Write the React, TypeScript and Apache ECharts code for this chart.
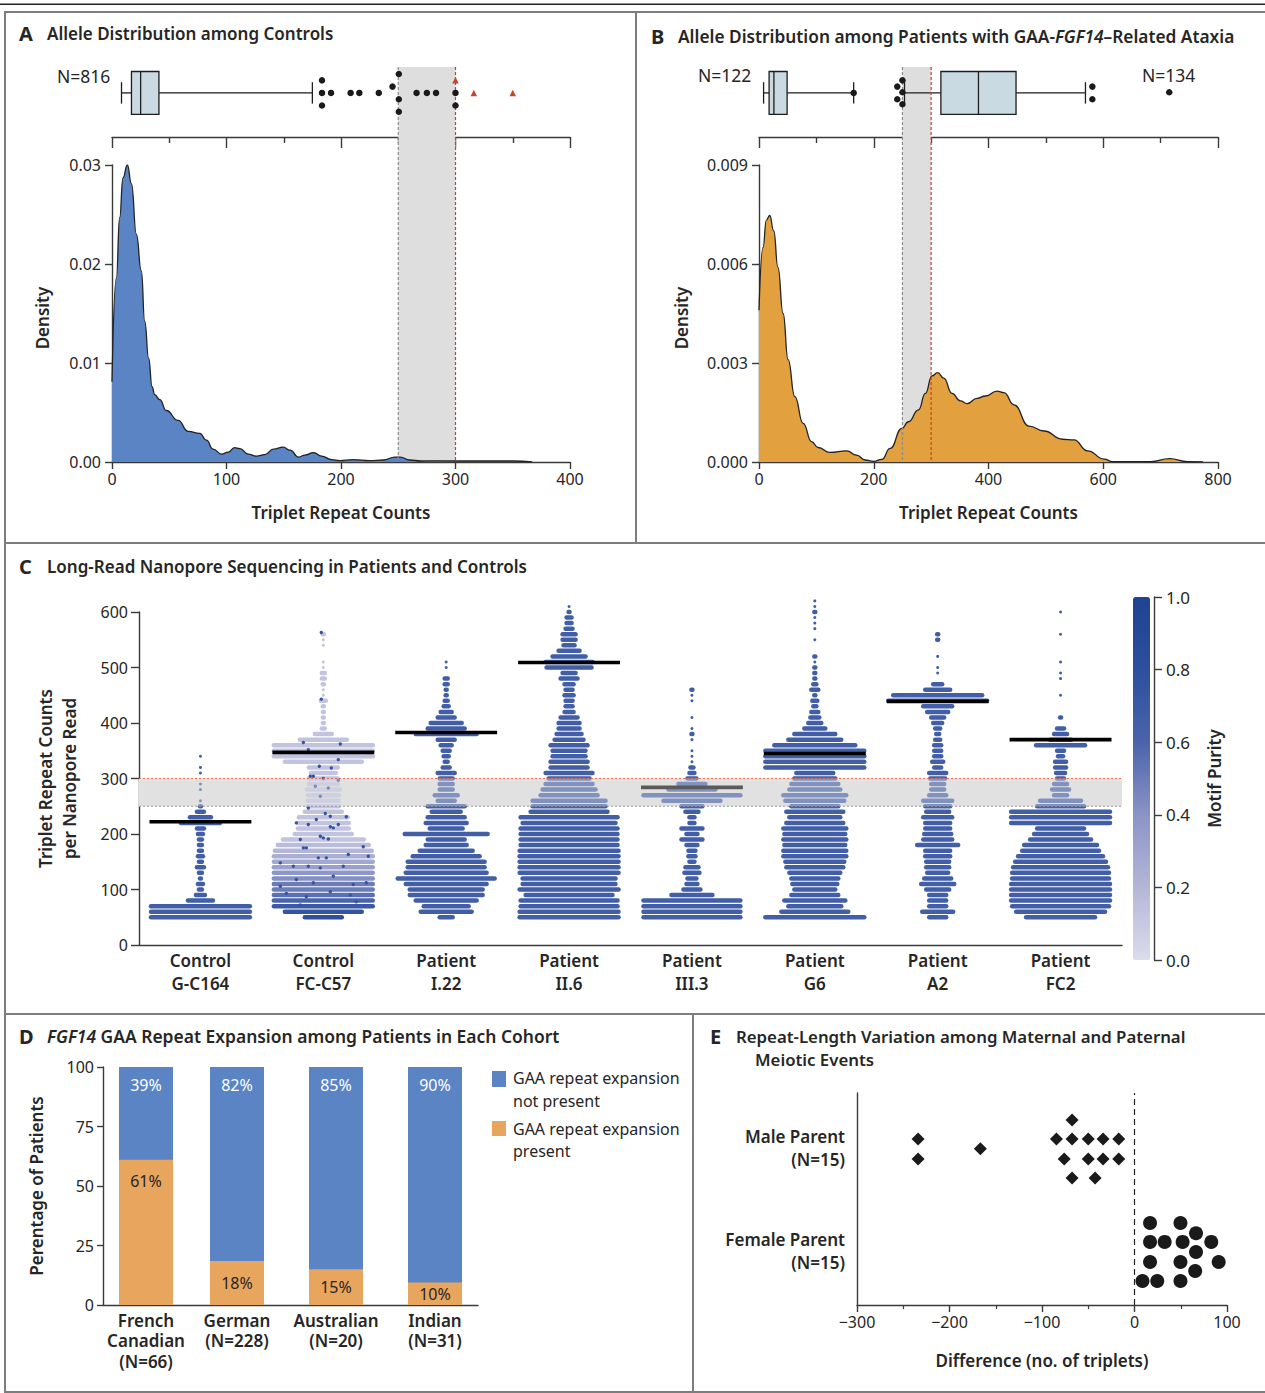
import React, { useEffect, useRef } from "react";
import * as echarts from "echarts";

const FONT = '"Noto Sans", sans-serif';
const INK = "#262626";
const AXIS = "#3a3a3a";

// ---------- Panels A and B: density curves [triplet count, density]
const densityControls = [[0,0.0081],[3.8,0.0186],[6.7,0.0247],[9.6,0.0287],[13.4,0.03],[17,0.0281],[21.3,0.023],[25.6,0.0193],[28.6,0.0142],[32,0.0105],[35,0.0076],[37.3,0.0068],[41.7,0.0063],[47.5,0.0052],[57.7,0.0042],[66.5,0.0031],[76.7,0.0029],[82.5,0.0022],[88.3,0.0013],[95.7,0.0008],[101.5,0.001],[107,0.00145],[111.7,0.00135],[119,0.0008],[126,0.0006],[133.5,0.00075],[141,0.0013],[149.5,0.0015],[155.5,0.0012],[163,0.0005],[168.5,0.0007],[176,0.00095],[183,0.0006],[192,0.00024],[199,0.00014],[210.5,0.00024],[225,0.00014],[237,0.0002],[247,0.0005],[251.6,0.0005],[260,0.0002],[270,0.0001],[280,0.00012],[300,0.0001],[320,0.0001],[350,0.0001],[367,0.00002]];
const densityPatients = [[0,0.0046],[7,0.0065],[12.8,0.00733],[18.7,0.00747],[25.7,0.007],[33,0.0059],[42,0.0045],[50.7,0.0031],[62.4,0.00198],[77,0.00117],[91.5,0.00062],[103,0.00044],[123.6,0.00029],[152.8,0.00034],[170,0.00021],[185,0.00006],[200,0.00002],[214,0.00008],[228.6,0.00041],[249,0.00102],[260.6,0.00122],[278,0.00158],[290,0.00208],[301.5,0.00261],[311.4,0.00271],[322,0.00254],[336.4,0.00208],[351,0.00185],[362.7,0.00177],[380,0.00193],[394.8,0.002],[415,0.00215],[427,0.0021],[444.5,0.00173],[470.5,0.00109],[496.8,0.00094],[528.9,0.00069],[549,0.00067],[572.6,0.00034],[601.7,0.00009],[616,0.00001],[683,0.00001],[715.5,0.0001],[747.5,0.00001],[773.8,0]];

// box plots: [low whisker, q1, median, q3, high whisker]
const boxControls = [[8.3, 17, 25, 41, 175]];
const boxPatients = [[8, 17.6, 26, 49, 165], [253.6, 317, 382.5, 448, 569]];
// outliers: [triplet count, stacking row]
const dotsControls = [[183.4,5],[183.4,7],[183.4,9],[191.3,7],[208.4,7],[216,7],[233,7],[245,8],[250.5,10],[250.5,6],[250.5,4],[266,7],[275,7],[283,7],[300,7],[300,5]];
const trianglesControls = [[300,9],[316,7],[350,7]];
const dotsPatients = [[165,7],[241,8],[241,6],[250,9],[250,7.1],[250,5.2],[581,8],[581,6],[715,7.1]];
const pathogenicBand = [[250, 300]];

// ---------- Panel C: swarms as reads per repeat-count row
const swarmNames = ["Control\nG-C164","Control\nFC-C57","Patient\nI.22","Patient\nII.6","Patient\nIII.3","Patient\nG6","Patient\nA2","Patient\nFC2"];
const rowStart = 50;
const rowStep = 10;
const swarmGC164 = [51,51,51,14,6,3,4,2,3,5,3,4,3,3,3,4,5,21,12,5,2,1,0,1,1,0,1,1,0,1];
const swarmFCC57 = [20,40,51,51,51,51,51,51,51,51,51,51,50,47,42,30,27,27,26,20,17,17,17,18,16,16,14,16,40,51,51,51,25,10,3,2,2,2,2,4,1,1,2,3,3,1,1,0,0,1,1,2];
const swarmI22 = [8,27,24,32,38,38,42,50,42,40,40,35,28,22,20,43,18,22,20,16,20,10,13,8,8,8,10,5,3,4,5,7,10,32,20,17,10,7,4,3,2,2,3,3,0,1,1];
const swarmII6 = [51,51,50,50,45,51,48,48,51,51,51,51,51,50,50,50,50,48,50,40,38,38,30,28,25,22,25,20,20,18,18,20,16,14,12,12,10,6,5,5,6,5,6,10,8,24,25,18,12,7,8,8,5,4,4,2,1];
const swarmIII3 = [50,50,50,50,22,10,7,6,9,8,4,5,5,7,12,7,12,4,4,8,12,30,50,25,15,6,4,3,1,1,1,0,1,2,1,0,1,0,0,1,1,2];
const swarmG6 = [51,35,28,32,25,22,24,25,27,30,31,33,33,32,33,32,33,30,27,30,25,31,33,27,25,22,20,51,51,51,51,42,28,22,12,8,6,5,3,4,2,5,3,2,2,2,1,2,0,0,1,0,1,1,1,2,1,1];
const swarmA2 = [10,17,10,10,10,13,18,15,12,13,13,14,14,22,16,15,14,14,16,13,14,16,10,8,8,9,10,5,7,5,5,5,4,3,4,6,8,12,16,51,46,14,6,0,1,1,0,1,0,0,2,2];
const swarmFC2 = [36,46,50,51,51,51,51,50,50,49,47,44,40,38,32,28,25,51,51,51,25,22,8,10,8,5,6,7,7,4,5,26,12,8,5,0,2,0,0,0,1,0,0,1,1,0,1,0,0,0,0,1,0,0,0,1];
const swarmRows = [swarmGC164, swarmFCC57, swarmI22, swarmII6, swarmIII3, swarmG6, swarmA2, swarmFC2];
const swarmPurity = [0.66, 0.13, 0.66, 0.66, 0.66, 0.66, 0.66, 0.66];
const fcc57RowPurity = [0.8,0.75,0.7,0.6,0.55,0.5,0.5,0.42,0.38,0.33,0.28,0.25,0.2,0.17];
// darker single reads scattered in Control FC-C57: [read offset, triplet count]
const fcc57DarkReads = [[-2,563],[-2,443],[-20,365],[17,362],[-15,352],[15,334],[-4,322],[8,319],[-13,304],[-10,304],[0,300],[15,297],[-8,286],[5,283],[-3,268],[-15,247],[2,237],[23,231],[7,232],[-27,220],[-7,226],[15,217],[-15,217],[7,213],[10,211],[-3,196],[0,193],[5,191],[-23,190],[-20,175],[-17,175],[-5,157],[3,157],[40,177],[45,160],[-43,148],[-30,142],[-15,142],[-3,139],[25,163],[20,142],[-43,106],[-27,118],[-10,112],[10,124],[30,109],[43,112],[-37,93],[-17,87],[7,96],[27,90],[-23,72],[33,78]];
const swarmMedians = [222, 347, 383, 509, 284, 345, 439, 370];

// ---------- Panel D
const cohorts = ["French\nCanadian\n(N=66)", "German\n(N=228)", "Australian\n(N=20)", "Indian\n(N=31)"];
const cohortAxisPositions = [43, 134, 233, 332];
const expansionPresent = [61, 18.5, 15, 9.5];
const expansionAbsent = [39, 81.5, 85, 90.5];
const presentLabels = ["61%", "18%", "15%", "10%"];
const absentLabels = ["39%", "82%", "85%", "90%"];

// ---------- Panel E: [difference, stacking row]
const maleParent = [[-234,17.1],[-234,15.05],[-166.6,16.1],[-84.4,17.1],[-67.5,17.1],[-50,17.1],[-34,17.1],[-17,17.1],[-67.5,19.07],[-76,15.05],[-50,15.05],[-34,15.05],[-17,15.05],[-67.5,13.1],[-42.6,13.1]];
const femaleParent = [[16.8,8.45],[49.7,8.45],[66.5,7.4],[16.8,6.5],[32.6,6.5],[52,6.5],[83,6.5],[66.5,5.46],[16.8,4.43],[49.7,4.43],[91,4.43],[65.6,3.5],[8.6,2.47],[24.6,2.47],[49.7,2.47]];
const parentAxisRows = [16.2, 5.6];
const parentNames = ["Male Parent\n(N=15)", "Female Parent\n(N=15)"];

const BLUE = "#5a84c4";
const ORANGE = "#e3a03e";
const BAR_ORANGE = "#e8a55e";
const BAND = "#dededf";

function bandItem(_: any, api: any) {
  const a = api.coord([api.value(0), 0]);
  const b = api.coord([api.value(1), 0]);
  const cs = _.coordSys;
  return { type: "rect", shape: { x: a[0], y: cs.y, width: b[0] - a[0], height: cs.height }, style: { fill: BAND } };
}
function vLine(_: any, api: any, idx: number, color: string) {
  const a = api.coord([api.value(idx), 0]);
  const cs = _.coordSys;
  return { type: "line", shape: { x1: a[0], y1: cs.y, x2: a[0], y2: cs.y + cs.height }, style: { stroke: color, lineWidth: 1.2, lineDash: [3, 2] } };
}
function bandLines(p: any, api: any) {
  return { type: "group", children: [vLine(p, api, 0, "#8a8a8a"), vLine(p, api, 1, "#c8402c")] };
}
function boxItem(_: any, api: any) {
  const yMid = 7, boxHalf = 3.4, capHalf = 1.7;
  const pt = (i: number, lvl: number) => api.coord([api.value(i), lvl]);
  const st = { stroke: "#1d1d1d", lineWidth: 1.3 };
  const lo = pt(0, yMid), q1t = pt(1, yMid + boxHalf), q1b = pt(1, yMid - boxHalf), m = pt(2, yMid + boxHalf), mb = pt(2, yMid - boxHalf), q3t = pt(3, yMid + boxHalf), q3m = pt(3, yMid), hi = pt(4, yMid), q1m = pt(1, yMid);
  const capL = [pt(0, yMid + capHalf), pt(0, yMid - capHalf)], capH = [pt(4, yMid + capHalf), pt(4, yMid - capHalf)];
  const line = (a: number[], b: number[]) => ({ type: "line", shape: { x1: a[0], y1: a[1], x2: b[0], y2: b[1] }, style: st });
  return { type: "group", children: [
    line(lo, q1m), line(q3m, hi), line(capL[0], capL[1]), line(capH[0], capH[1]),
    { type: "rect", shape: { x: q1t[0], y: q1t[1], width: q3t[0] - q1t[0], height: q1b[1] - q1t[1] }, style: { fill: "#c9dae3", stroke: "#1d1d1d", lineWidth: 1.3 } },
    line(m, mb),
  ] };
}
function rowItem(_: any, api: any) {
  const c = api.coord([api.value(0), api.value(1)]);
  const band = api.size([1, 0])[0];
  const w = (api.value(2) / 123) * band;
  const color = api.visual("color");
  if (api.value(2) <= 1) return { type: "circle", shape: { cx: c[0], cy: c[1], r: 1.5 }, style: { fill: color } };
  return { type: "line", shape: { x1: c[0] - w + 1.5, y1: c[1], x2: c[0] + w - 1.5, y2: c[1] }, style: { stroke: color, lineWidth: 4.5, lineCap: "round" } };
}
function darkReadItem(_: any, api: any) {
  const c = api.coord([api.value(0), api.value(1)]);
  const band = api.size([1, 0])[0];
  return { type: "circle", shape: { cx: c[0] + (api.value(2) / 123) * band, cy: c[1], r: 1.7 }, style: { fill: api.visual("color") } };
}
function medianItem(_: any, api: any) {
  const c = api.coord([api.value(0), api.value(1)]);
  const band = api.size([1, 0])[0];
  const w = (51 / 123) * band;
  return { type: "line", shape: { x1: c[0] - w, y1: c[1], x2: c[0] + w, y2: c[1] }, style: { stroke: "#000", lineWidth: 3.6 } };
}
function hBand(color: string) {
  return (p: any, api: any) => {
    const a = api.coord([0, api.value(1)]);
    const b = api.coord([0, api.value(0)]);
    const cs = p.coordSys;
    return { type: "rect", shape: { x: cs.x, y: a[1], width: cs.width, height: b[1] - a[1] }, style: { fill: color } };
  };
}
function hLines(p: any, api: any) {
  const a = api.coord([0, api.value(0)]);
  const b = api.coord([0, api.value(1)]);
  const cs = p.coordSys;
  const l = (y: number, c: string) => ({ type: "line", shape: { x1: cs.x, y1: y, x2: cs.x + cs.width, y2: y }, style: { stroke: c, lineWidth: 1.2, lineDash: [2, 2] } });
  return { type: "group", children: [l(a[1], "#9a9a9a"), l(b[1], "#ef6b4a")] };
}

function swarmData() {
  const out: number[][] = [];
  swarmRows.forEach((rows, s) => rows.forEach((w, i) => {
    if (w > 0) out.push([s, rowStart + i * rowStep, w, s === 1 && i < fcc57RowPurity.length ? fcc57RowPurity[i] : swarmPurity[s]]);
  }));
  return out;
}

const tickLabel = { fontFamily: FONT, fontSize: 16, color: INK };
const nameStyle = { fontFamily: FONT, fontSize: 17, fontWeight: 600, color: INK };
const axisLine = { onZero: false, lineStyle: { color: AXIS, width: 1.4 } };

function title(x: number, y: number, letter: string, letterX: number, text: string, size = 17) {
  const rich = {
    i: { fontFamily: FONT, fontSize: size, fontWeight: 600, fontStyle: "italic", color: INK },
    n: { fontFamily: FONT, fontSize: size, fontWeight: 600, color: INK },
  };
  return [
    { type: "text", x: letterX, y, style: { text: letter, font: `700 20px ${FONT}`, fill: INK, verticalAlign: "middle" } },
    { type: "text", x, y, style: { text, font: `600 ${size}px ${FONT}`, fill: INK, verticalAlign: "middle", rich } },
  ];
}
function frame(x: number, y: number, w: number, h: number) {
  return { type: "rect", shape: { x, y, width: w, height: h }, style: { fill: "none", stroke: "#7d7d7d", lineWidth: 2 } };
}
function note(x: number, y: number, text: string, size = 16, align = "left") {
  return { type: "text", x, y, style: { text, font: `400 ${size}px ${FONT}`, fill: INK, verticalAlign: "middle", align } };
}

function buildOption() {
  const grids = [
    { left: 112, top: 67, width: 458, height: 395 },
    { left: 112, top: 63, width: 458, height: 74 },
    { left: 112, top: 165, width: 458, height: 297 },
    { left: 759, top: 67, width: 459, height: 395 },
    { left: 759, top: 63, width: 459, height: 74 },
    { left: 759, top: 165, width: 459, height: 297 },
    { left: 139, top: 612, width: 983, height: 333 },
    { left: 1133, top: 597, width: 21, height: 363 },
    { left: 103, top: 1067, width: 375, height: 238 },
    { left: 857, top: 1093, width: 370, height: 212 },
  ];
  const hiddenX = (gridIndex: number, max: number) => ({ gridIndex, type: "value", min: 0, max, show: false });
  const topX = (gridIndex: number, max: number, interval: number) => ({
    gridIndex, type: "value", min: 0, max, interval, axisLine, axisLabel: { show: false }, splitLine: { show: false },
    axisTick: { length: 11, lineStyle: { color: AXIS, width: 1.4 } },
    minorTick: { show: true, splitNumber: 2, length: 6, lineStyle: { color: AXIS, width: 1.4 } }, minorSplitLine: { show: false },
  });
  const densX = (gridIndex: number, max: number, interval: number) => ({
    gridIndex, type: "value", min: 0, max, interval, axisLine, splitLine: { show: false },
    axisTick: { length: 7, lineStyle: { color: AXIS, width: 1.4 } }, axisLabel: { ...tickLabel, margin: 9 },
    name: "Triplet Repeat Counts", nameLocation: "middle", nameGap: 42, nameTextStyle: nameStyle,
  });
  const densY = (gridIndex: number, max: number, interval: number, digits: number, gap: number) => ({
    gridIndex, type: "value", min: 0, max, interval, axisLine: { show: true, ...axisLine }, splitLine: { show: false },
    axisTick: { show: true, length: 7, lineStyle: { color: AXIS, width: 1.4 } },
    axisLabel: { ...tickLabel, margin: 11, formatter: (v: number) => v.toFixed(digits) },
    name: "Density", nameLocation: "middle", nameGap: gap, nameTextStyle: { ...nameStyle, padding: [0, 9, 0, 0] },
  });
  const xAxis = [
    hiddenX(0, 400), topX(1, 400, 100), densX(2, 400, 100),
    hiddenX(3, 800), topX(4, 800, 200), densX(5, 800, 200),
    { gridIndex: 6, type: "category", data: swarmNames, axisLine, axisTick: { show: false },
      axisLabel: { fontFamily: FONT, fontSize: 17, fontWeight: 600, color: INK, lineHeight: 23, margin: 4, interval: 0 } },
    { gridIndex: 7, type: "value", min: 0, max: 1, show: false },
    { gridIndex: 8, type: "value", min: 0, max: 375, axisLine, axisTick: { show: false }, splitLine: { show: false },
      axisLabel: { fontFamily: FONT, fontSize: 17, fontWeight: 600, color: INK, lineHeight: 20.5, margin: 5, customValues: cohortAxisPositions,
        formatter: (v: number) => cohorts[cohortAxisPositions.indexOf(v)] ?? "" } },
    { gridIndex: 9, type: "value", min: -300, max: 100, interval: 100, axisLine, splitLine: { show: false },
      axisTick: { length: 7, lineStyle: { color: AXIS, width: 1.4 } },
      minorTick: { show: true, splitNumber: 2, length: 4, lineStyle: { color: AXIS, width: 1.2 } }, minorSplitLine: { show: false },
      axisLabel: { ...tickLabel, margin: 9, formatter: (v: number) => String(v).replace("-", "\u2212") },
      name: "Difference (no. of triplets)", nameLocation: "middle", nameGap: 47, nameTextStyle: nameStyle },
  ];
  const levelY = (gridIndex: number) => ({ gridIndex, type: "value", min: 0, max: 11.75, show: false });
  const yAxis = [
    { gridIndex: 0, type: "value", min: 0, max: 1, show: false }, levelY(1), densY(2, 0.03, 0.01, 2, 61),
    { gridIndex: 3, type: "value", min: 0, max: 1, show: false }, levelY(4), densY(5, 0.009, 0.003, 3, 69),
    { gridIndex: 6, type: "value", min: 0, max: 600, interval: 100, axisLine: { show: true, ...axisLine }, splitLine: { show: false },
      axisTick: { show: true, length: 8, lineStyle: { color: AXIS, width: 1.4 } }, axisLabel: { ...tickLabel, margin: 11 },
      name: "Triplet Repeat Counts\nper Nanopore Read", nameLocation: "middle", nameGap: 58, nameTextStyle: { ...nameStyle, lineHeight: 24 } },
    { gridIndex: 7, type: "value", min: 0, max: 1, interval: 0.2, position: "right", axisLine: { show: true, ...axisLine }, splitLine: { show: false },
      axisTick: { show: true, length: 8, lineStyle: { color: AXIS, width: 1.4 } },
      axisLabel: { ...tickLabel, fontSize: 17, margin: 12, formatter: (v: number) => v.toFixed(1) },
      name: "Motif Purity", nameLocation: "middle", nameGap: 52, nameRotate: 90, nameTextStyle: nameStyle },
    { gridIndex: 8, type: "value", min: 0, max: 100, interval: 25, axisLine: { show: true, ...axisLine }, splitLine: { show: false },
      axisTick: { show: true, length: 6, lineStyle: { color: AXIS, width: 1.4 } }, axisLabel: { ...tickLabel, margin: 9 },
      name: "Perentage of Patients", nameLocation: "middle", nameGap: 58, nameTextStyle: nameStyle },
    { gridIndex: 9, type: "value", min: 0, max: 21.85, axisLine: { show: true, ...axisLine }, splitLine: { show: false }, axisTick: { show: false },
      axisLabel: { fontFamily: FONT, fontSize: 17, fontWeight: 600, color: INK, lineHeight: 23, margin: 12, customValues: parentAxisRows,
        formatter: (v: number) => parentNames[parentAxisRows.indexOf(v)] ?? "" } },
  ];
  const scatterStyle = (grid: number, data: number[][], symbol: string, symbolSize: number, color: string, z = 6) => ({
    type: "scatter", xAxisIndex: grid, yAxisIndex: grid, data, symbol, symbolSize, itemStyle: { color, opacity: 1 }, z, silent: true,
  });
  const panelAB = (bg: number, box: number, dens: number, boxes: number[][], dots: number[][], curve: number[][], fill: string) => [
    { type: "custom", xAxisIndex: bg, yAxisIndex: bg, data: pathogenicBand, renderItem: bandItem, z: 1, silent: true },
    { type: "line", xAxisIndex: dens, yAxisIndex: dens, data: curve, smooth: 0.5, smoothMonotone: "x", showSymbol: false,
      lineStyle: { color: "#222", width: 1.3 }, areaStyle: { color: fill, opacity: 1 }, z: 2, silent: true },
    { type: "custom", xAxisIndex: box, yAxisIndex: box, data: boxes, renderItem: boxItem, z: 4, silent: true },
    scatterStyle(box, dots, "circle", 6.5, "#1a1a1a"),
    { type: "custom", xAxisIndex: bg, yAxisIndex: bg, data: pathogenicBand, renderItem: bandLines, z: 5, silent: true },
  ];
  const series: any[] = [
    ...panelAB(0, 1, 2, boxControls, dotsControls, densityControls, BLUE),
    scatterStyle(1, trianglesControls, "triangle", 6.5, "#c8442f", 7),
    ...panelAB(3, 4, 5, boxPatients, dotsPatients, densityPatients, ORANGE),
    { type: "custom", xAxisIndex: 6, yAxisIndex: 6, data: pathogenicBand, renderItem: hBand("#e2e2e2"), z: 1, silent: true },
  ];
  const rowsIndex = series.length;
  series.push({ type: "custom", xAxisIndex: 6, yAxisIndex: 6, data: swarmData(), renderItem: rowItem, z: 2, silent: true });
  const darkIndex = series.length;
  series.push({ type: "custom", xAxisIndex: 6, yAxisIndex: 6, data: fcc57DarkReads.map(([o, v]) => [1, v, o, 0.75]), renderItem: darkReadItem, z: 3, silent: true });
  series.push(
    { type: "custom", xAxisIndex: 6, yAxisIndex: 6, data: swarmMedians.map((m, i) => [i, m]), renderItem: medianItem, z: 4, silent: true },
    { type: "custom", xAxisIndex: 6, yAxisIndex: 6, data: pathogenicBand, renderItem: hBand("rgba(226,226,226,0.4)"), z: 5, silent: true },
    { type: "custom", xAxisIndex: 6, yAxisIndex: 6, data: pathogenicBand, renderItem: hLines, z: 6, silent: true },
    { type: "bar", xAxisIndex: 8, yAxisIndex: 8, barWidth: 54, itemStyle: { color: BLUE }, silent: true, z: 2,
      data: expansionAbsent.map((v, i) => ({
        value: [cohortAxisPositions[i], v + expansionPresent[i]],
        label: { show: true, position: "insideTop", distance: 10, formatter: absentLabels[i], fontFamily: FONT, fontSize: 16, color: "#fff" },
      })) },
    { type: "bar", xAxisIndex: 8, yAxisIndex: 8, barWidth: 54, barGap: "-100%", itemStyle: { color: BAR_ORANGE }, silent: true, z: 3,
      data: expansionPresent.map((v, i) => ({
        value: [cohortAxisPositions[i], v],
        label: { show: true, position: i === 0 ? "insideTop" : "inside", distance: 13, formatter: presentLabels[i], fontFamily: FONT, fontSize: 16, color: INK },
      })) },
    { ...scatterStyle(9, maleParent, "diamond", 13, "#1a1a1a"),
      markLine: { silent: true, symbol: "none", label: { show: false }, lineStyle: { color: "#222", type: [6, 4], width: 1.2 }, data: [{ xAxis: 0 }] } },
    scatterStyle(9, femaleParent, "circle", 14, "#1a1a1a"),
  );
  const graphic = [
    { type: "rect", shape: { x: 0, y: 3.5, width: 1265, height: 1.5 }, style: { fill: "#222" } },
    frame(5, 12, 631, 531), frame(636, 12, 632, 531), frame(5, 543, 1263, 471), frame(5, 1014, 688, 378), frame(693, 1014, 575, 378),
    ...title(47, 33, "A", 19, "Allele Distribution among Controls"),
    ...title(678, 36, "B", 651, "{n|Allele Distribution among Patients with GAA-}{i|FGF14}{n|\u2013Related Ataxia}", 17.3),
    ...title(47, 566, "C", 19, "Long-Read Nanopore Sequencing in Patients and Controls", 17.05),
    ...title(47, 1036, "D", 19, "{i|FGF14}{n| GAA Repeat Expansion among Patients in Each Cohort}", 17.45),
    ...title(736, 1036, "E", 710, "Repeat-Length Variation among Maternal and Paternal", 16.8),
    { type: "text", x: 755, y: 1059, style: { text: "Meiotic Events", font: `600 16.8px ${FONT}`, fill: INK, verticalAlign: "middle" } },
    note(57, 76, "N=816", 17.5), note(698, 75, "N=122", 17.5), note(1142, 75, "N=134", 17.5),
    { type: "rect", shape: { x: 492, y: 1071, width: 14, height: 16 }, style: { fill: BLUE } },
    { type: "rect", shape: { x: 492, y: 1121, width: 14, height: 15 }, style: { fill: BAR_ORANGE } },
    note(513, 1078, "GAA repeat expansion"), note(513, 1101, "not present"),
    note(513, 1129, "GAA repeat expansion"), note(513, 1151, "present"),
  ];
  return {
    animation: false,
    backgroundColor: "#fff",
    textStyle: { fontFamily: FONT },
    grid: grids,
    xAxis,
    yAxis,
    series,
    graphic,
    visualMap: {
      type: "continuous", min: 0, max: 1, dimension: 3, seriesIndex: [rowsIndex, darkIndex], left: 1133, top: 597, padding: 0,
      itemWidth: 17, itemHeight: 363, calculable: false, realtime: false, hoverLink: false, showLabel: false,
      inRange: { color: ["#dcdcec", "#b4b6d8", "#8a94c6", "#4a64ab", "#2d4f9d", "#1f4391"] },
    },
  };
}

export default function App() {
  const ref = useRef<HTMLDivElement | null>(null);
  useEffect(() => {
    const chart = echarts.init(ref.current!, undefined, { renderer: "svg" });
    chart.setOption(buildOption() as any);
    return () => chart.dispose();
  }, []);
  return <div ref={ref} style={{ position: "absolute", left: 0, top: 0, width: 1265, height: 1393 }} />;
}
